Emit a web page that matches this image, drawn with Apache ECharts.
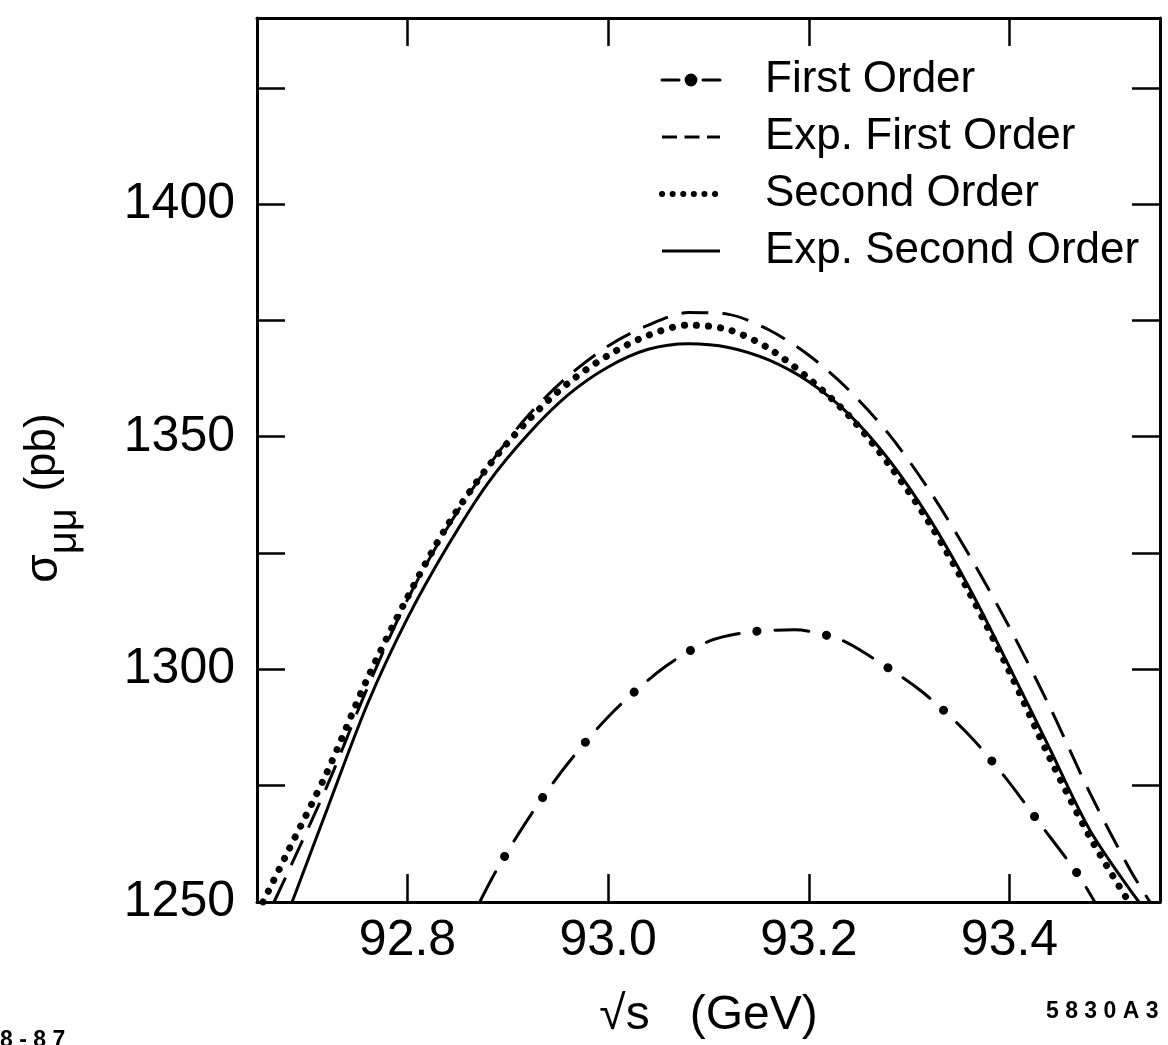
<!DOCTYPE html>
<html>
<head>
<meta charset="utf-8">
<script src="https://cdn.jsdelivr.net/npm/echarts@6/dist/echarts.min.js"></script>
<style>
  html, body { margin: 0; padding: 0; background: #fff; }
  #chart { width: 1168px; height: 1045px; }
</style>
</head>
<body>
<div id="chart"></div>
<script>
// sqrt(s) in GeV, sigma_mumu in pb
const firstOrder = [
  [92.872, 1250], [92.891, 1257.7], [92.925, 1269.4], [92.961, 1280.1],
  [93.006, 1291.1], [93.057, 1300.6], [93.10, 1306], [93.14, 1308],
  [93.186, 1308.5], [93.23, 1306.5], [93.256, 1303.5], [93.311, 1295.5],
  [93.357, 1286.5], [93.395, 1277], [93.428, 1267.5], [93.468, 1256], [93.485, 1250]
];
const expFirstOrder = [
  [92.667, 1250], [92.68, 1256], [92.72, 1275], [92.76, 1296], [92.80, 1315],
  [92.84, 1330.5], [92.88, 1343.5], [92.92, 1354.5], [92.96, 1363], [93.00, 1369.5],
  [93.04, 1374], [93.08, 1376.7], [93.12, 1376.3], [93.16, 1373], [93.20, 1367.5],
  [93.24, 1360], [93.28, 1350.5], [93.32, 1338.5], [93.36, 1324.5], [93.40, 1309],
  [93.44, 1292], [93.48, 1273.5], [93.52, 1257], [93.54, 1250]
];
const secondOrder = [
  [92.656, 1250], [92.68, 1260.5], [92.72, 1278], [92.76, 1298], [92.80, 1315.5],
  [92.84, 1331], [92.88, 1343.5], [92.92, 1353.5], [92.96, 1361.5], [93.00, 1367.5],
  [93.04, 1371.8], [93.08, 1374], [93.12, 1373], [93.16, 1369], [93.20, 1362.5],
  [93.24, 1354.5], [93.28, 1344], [93.32, 1331.5], [93.36, 1316.5], [93.40, 1299.5],
  [93.44, 1281], [93.48, 1264], [93.519, 1250]
];
const expSecondOrder = [
  [92.685, 1250], [92.72, 1270], [92.76, 1292.5], [92.80, 1311], [92.84, 1326.5],
  [92.88, 1340], [92.92, 1350.5], [92.96, 1359], [93.00, 1365], [93.04, 1368.8],
  [93.08, 1370], [93.12, 1369.2], [93.16, 1366.5], [93.20, 1361.8], [93.24, 1354.8],
  [93.28, 1345], [93.32, 1332.5], [93.36, 1317.5], [93.40, 1300.5], [93.44, 1283],
  [93.48, 1265.5], [93.529, 1250]
];
const xTicks = [92.8, 93.0, 93.2, 93.4];
const yLabels = [1250, 1300, 1350, 1400];

const font = 'Liberation Sans';
const myChart = echarts.init(document.getElementById('chart'));

const axisLine = { show: true, onZero: false, lineStyle: { color: '#000', width: 3 } };
const tick = { show: true, inside: true, length: 28, lineStyle: { color: '#000', width: 2.5 } };
const noDot = { opacity: 0 };

const option = {
  animation: false,
  backgroundColor: '#fff',
  grid: { left: 257, right: 8, top: 18, bottom: 140 },
  legend: {
    orient: 'vertical',
    left: 654,
    top: 53,
    itemWidth: 58,
    itemHeight: 16,
    itemGap: 13,
    data: [
      { name: 'First Order', itemStyle: { color: '#000', opacity: 1 },
        lineStyle: { color: '#000', width: 3, type: [17, 24] } },
      { name: 'Exp. First Order', itemStyle: noDot,
        lineStyle: { color: '#000', width: 3, type: [15, 7.5] } },
      { name: 'Second Order', itemStyle: noDot,
        lineStyle: { color: '#000', width: 6, type: [0.1, 10.5], cap: 'round' } },
      { name: 'Exp. Second Order', itemStyle: noDot,
        lineStyle: { color: '#000', width: 3, type: 'solid' } },
    ],
    textStyle: { fontFamily: font, fontSize: 44, color: '#000', padding: [0, 0, 0, 40] },
  },
  xAxis: [
    {
      type: 'value', min: 92.65, max: 93.55,
      name: '√s   (GeV)', nameLocation: 'middle', nameGap: 90,
      nameTextStyle: { fontFamily: font, fontSize: 48, color: '#000' },
      axisLine, splitLine: { show: false },
      axisTick: Object.assign({ customValues: xTicks }, tick),
      axisLabel: {
        customValues: xTicks, margin: 14,
        formatter: (v) => v.toFixed(1),
        fontFamily: font, fontSize: 50, color: '#000',
      },
    },
    {
      type: 'value', min: 92.65, max: 93.55, position: 'top',
      axisLine, splitLine: { show: false },
      axisTick: Object.assign({ customValues: xTicks }, tick),
      axisLabel: { show: false },
    },
  ],
  yAxis: [
    {
      type: 'value', min: 1250, max: 1440, interval: 25,
      name: '{s|σ}{sub|μμ}     {p|(pb)}', nameLocation: 'middle', nameGap: 172,
      nameRotate: 90,
      nameTextStyle: {
        padding: [0, 76, 0, 0],
        rich: {
          s: { fontFamily: font, fontSize: 46, color: '#000', lineHeight: 64, verticalAlign: 'top' },
          sub: { fontFamily: font, fontSize: 40, color: '#000', lineHeight: 64, verticalAlign: 'bottom' },
          p: { fontFamily: font, fontSize: 44, color: '#000', lineHeight: 64, verticalAlign: 'top' },
        },
      },
      axisLine, splitLine: { show: false },
      axisTick: tick,
      axisLabel: {
        customValues: yLabels, margin: 22,
        formatter: (v) => String(v),
        fontFamily: font, fontSize: 50, color: '#000',
      },
    },
    {
      type: 'value', min: 1250, max: 1440, interval: 25, position: 'right',
      axisLine, splitLine: { show: false },
      axisTick: tick,
      axisLabel: { show: false },
    },
  ],
  series: [
    {
      name: 'First Order', type: 'line', data: firstOrder, smooth: 0.3,
      showSymbol: false, symbol: 'circle', symbolSize: 9, color: '#000',
      lineStyle: { color: '#000', width: 3, type: [34, 36], cap: 'round' },
    },
    {
      name: 'First Order', type: 'line', data: firstOrder, smooth: 0.3,
      showSymbol: false, symbol: 'none', color: '#000',
      lineStyle: { color: '#000', width: 9, type: [0.1, 69.9], dashOffset: -52, cap: 'round' },
    },
    {
      name: 'Exp. First Order', type: 'line', data: expFirstOrder, smooth: 0.3,
      showSymbol: false, symbol: 'none', color: '#000',
      lineStyle: { color: '#000', width: 3, type: [27, 14] },
    },
    {
      name: 'Second Order', type: 'line', data: secondOrder, smooth: 0.3,
      showSymbol: false, symbol: 'none', color: '#000',
      lineStyle: { color: '#000', width: 7, type: [0.1, 12], cap: 'round' },
    },
    {
      name: 'Exp. Second Order', type: 'line', data: expSecondOrder, smooth: 0.3,
      showSymbol: false, symbol: 'none', color: '#000',
      lineStyle: { color: '#000', width: 3 },
    },
  ],
  graphic: [
    {
      type: 'text', left: 1046, top: 1000,
      style: { text: '5 8 3 0 A 3', font: 'bold 23px "Liberation Sans"', fill: '#000' },
    },
    {
      type: 'text', left: 0, top: 1029,
      style: { text: '8 - 8 7', font: 'bold 23px "Liberation Sans"', fill: '#000' },
    },
  ],
};

myChart.setOption(option);
</script>
</body>
</html>
